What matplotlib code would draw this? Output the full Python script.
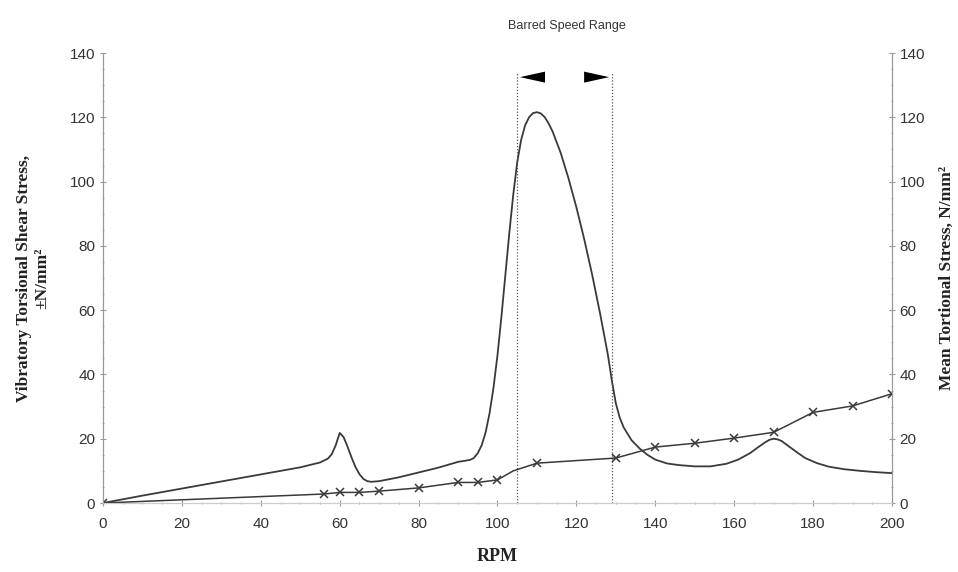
import numpy as np
import matplotlib
matplotlib.use('Agg')
import matplotlib.pyplot as plt
from matplotlib.ticker import MultipleLocator

# vibratory torsional shear stress (left axis)
rpm_vib = [0, 10, 20, 30, 40, 50, 55, 57, 58, 59, 60, 61, 62, 63, 64, 65, 66, 67, 68, 70,
           75, 80, 85, 90, 92, 93, 94, 95, 96, 97, 98, 99, 100, 101, 102, 103, 104, 105,
           106, 107, 108, 109, 110, 111, 112, 113, 114, 116, 118, 120, 122, 124, 126,
           128, 129, 130, 131, 132, 134, 136, 138, 140, 143, 146, 150, 154, 158,
           161, 164, 166, 168, 169, 170, 171, 172, 174, 176, 178, 181, 184, 188, 192,
           196, 200]
vib = [0, 2.3, 4.5, 6.7, 8.9, 11.1, 12.6, 13.8, 15.2, 18, 21.8, 20.5, 17.5, 14.2, 11.2,
       9, 7.5, 6.8, 6.6, 6.8, 8, 9.5, 11, 12.8, 13.2, 13.4, 14, 15.5, 18, 22, 28, 36,
       46, 58, 71, 84, 96, 106, 113, 117.5, 120, 121.3, 121.6, 121.2, 120, 118, 115.5,
       109, 101, 92, 82, 71, 59, 46, 38, 31, 26.5, 23.5, 19.5, 17, 15, 13.5, 12.3,
       11.8, 11.4, 11.4, 12.2, 13.5, 15.5, 17.3, 19, 19.7, 20, 19.8, 19.3, 17.5, 15.7,
       14, 12.4, 11.3, 10.5, 10, 9.6, 9.3]

# mean torsional stress (right axis)
rpm_mean = [0, 56, 60, 65, 70, 80, 90, 95, 100, 104, 110, 130, 140, 150, 160, 170, 180, 190, 200]
mean = [0, 2.8, 3.3, 3.3, 3.7, 4.7, 6.4, 6.4, 7.2, 10, 12.4, 14, 17.4, 18.6, 20.2, 22, 28.2, 30.2, 34]
marked = [i for i in range(len(rpm_mean)) if rpm_mean[i] != 104]

barred = [105, 129]

plt.rcParams['font.family'] = ['Liberation Sans', 'DejaVu Sans']

fig = plt.figure(figsize=(9.58, 5.72), dpi=100)
ax = fig.add_axes([0.1075, 0.1206, 0.8236, 0.7867])
ax2 = ax.twinx()

lc = '#3a3a3a'
ax.plot(rpm_vib, vib, color=lc, lw=1.3)
ax2.plot(rpm_mean, mean, color=lc, lw=1.1, marker='x', ms=5.5, mew=1.1,
         markevery=marked)

for b in barred:
    ax.plot([b, b], [0, 134], color='#555555', lw=0.9, ls=(0, (1, 1.5)))

astyle = '-|>,head_length=1.0,head_width=0.22'
ax.annotate('', xy=(105, 132.5), xytext=(109.6, 132.5),
            arrowprops=dict(arrowstyle=astyle, color='black', lw=0, mutation_scale=18))
ax.annotate('', xy=(129, 132.5), xytext=(124.4, 132.5),
            arrowprops=dict(arrowstyle=astyle, color='black', lw=0, mutation_scale=18))
ax.text(117.5, 148.5, 'Barred Speed Range', ha='center', va='center', fontsize=9,
        color='#333333')

for a in (ax, ax2):
    a.set_xlim(0, 200)
    a.set_ylim(0, 140)
    a.yaxis.set_major_locator(MultipleLocator(20))
    a.yaxis.set_minor_locator(MultipleLocator(5))
    a.spines['top'].set_visible(False)
    for s in ('left', 'right', 'bottom'):
        a.spines[s].set_color('#999999')
        a.spines[s].set_linewidth(0.8)
        a.spines[s].set_linestyle((0, (2, 1)))
    a.spines['bottom'].set_color('#cccccc')
    a.tick_params(which='both', colors='#999999', labelcolor='#333333',
                  labelsize=11, direction='inout')
    a.tick_params(which='major', length=4)
    a.tick_params(which='minor', length=2)

ax.xaxis.set_major_locator(MultipleLocator(20))
ax.xaxis.set_minor_locator(MultipleLocator(5))
ax.tick_params(axis='x', pad=8)

ax.set_xlabel('RPM', fontfamily='Liberation Serif', fontweight='bold', fontsize=13,
              color='#222222', labelpad=12)
ax.set_ylabel('Vibratory Torsional Shear Stress,\n±N/mm²', fontfamily='Liberation Serif',
              fontweight='bold', fontsize=12.5, color='#222222', labelpad=14)
ax2.set_ylabel('Mean Tortional Stress, N/mm²', fontfamily='Liberation Serif',
               fontweight='bold', fontsize=12.5, color='#222222', labelpad=10)

fig.savefig('out.png', dpi=100)
